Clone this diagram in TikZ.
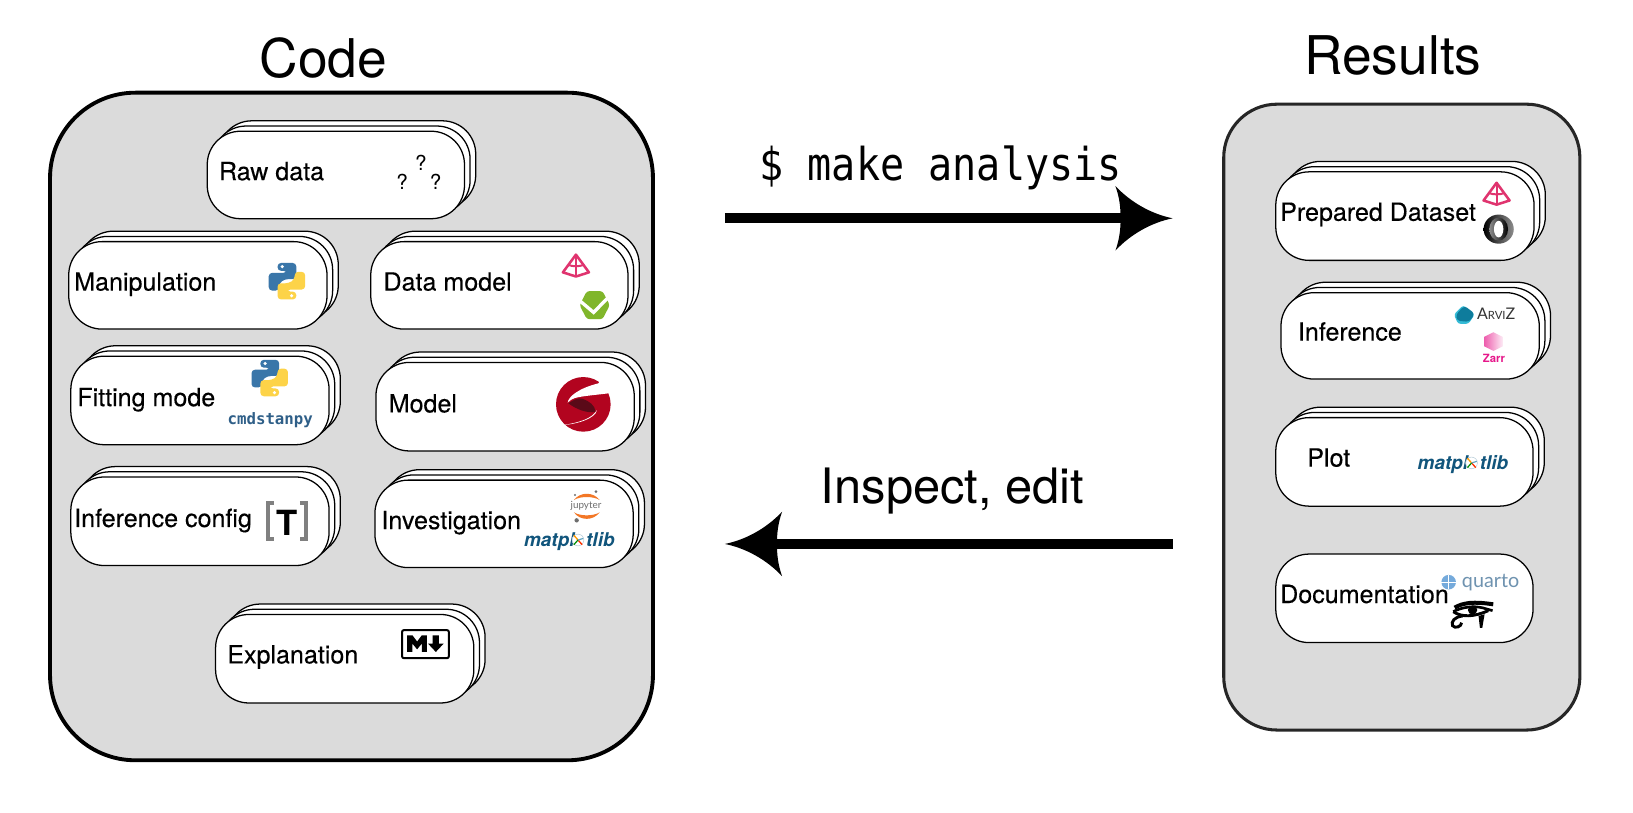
\documentclass[tikz,border=0pt]{standalone}
\usepackage{fontspec}
\setmainfont{TeX Gyre Heros}
\newfontfamily\cardfont[FakeBold=0.2]{TeX Gyre Heros}
\newfontfamily\monoA[FakeStretch=0.885]{DejaVu Sans Mono}
\newfontfamily\monoB{DejaVu Sans Mono}
\newfontfamily\latoF{Lato}
\definecolor{panelgray}{HTML}{DBDBDB}
\definecolor{pyblue}{HTML}{3A76A9}
\definecolor{pyyellow}{HTML}{FDD348}
\definecolor{pdpink}{HTML}{E0346F}
\definecolor{pdgreen}{HTML}{80B62B}
\definecolor{stanred}{HTML}{B2041F}
\definecolor{standark}{HTML}{5A0A18}
\definecolor{mplblue}{HTML}{11557C}
\definecolor{cmdblue}{HTML}{2F5F88}
\definecolor{juporange}{HTML}{F37726}
\definecolor{jupgray}{HTML}{6E6E6E}
\definecolor{arvizdark}{HTML}{0E7C9C}
\definecolor{arvizlight}{HTML}{35BBD6}
\definecolor{zarrpink}{HTML}{E6178A}
\definecolor{quartoblue}{HTML}{75AADB}
\definecolor{quartotext}{HTML}{6F93B0}
\newcommand{\Uu}{0.7811}
\newcommand{\Card}[5]{%
  \pgfmathsetmacro{\cardx}{(#2+#4)/2}%
  \pgfmathsetmacro{\cardy}{(#3+#5)/2}%
  \pgfmathsetmacro{\cardw}{(#4-#2)*\Uu}%
  \pgfmathsetmacro{\cardh}{(#5-#3)*\Uu}%
  \node[cardbox,minimum width=\cardw pt,minimum height=\cardh pt] (#1c) at (\cardx+10.8,\cardy-10) {};
  \node[cardbox,minimum width=\cardw pt,minimum height=\cardh pt] (#1b) at (\cardx+5.4,\cardy-5) {};
  \node[cardbox,minimum width=\cardw pt,minimum height=\cardh pt] (#1) at (\cardx,\cardy) {};
}
\newcommand{\SingleCard}[5]{%
  \pgfmathsetmacro{\cardx}{(#2+#4)/2}%
  \pgfmathsetmacro{\cardy}{(#3+#5)/2}%
  \pgfmathsetmacro{\cardw}{(#4-#2)*\Uu}%
  \pgfmathsetmacro{\cardh}{(#5-#3)*\Uu}%
  \node[cardbox,minimum width=\cardw pt,minimum height=\cardh pt] (#1) at (\cardx,\cardy) {};
}
\tikzset{
  x=0.7811pt,y=-0.7811pt,
  cardbox/.style={draw=black,fill=white,line width=0.95pt,rounded corners=25pt,inner sep=0pt,outer sep=0pt},
  cardlabel/.style={anchor=base west,inner sep=0pt,font=\cardfont\fontsize{18.8}{20}\selectfont},
  bigtitle/.style={anchor=base west,inner sep=0pt,font=\fontsize{40}{44}\selectfont},
  shaft/.style={line width=7.4pt,black,shorten >=30pt},
  pysnake/.pic={
    \fill[rounded corners=2.6pt,#1] (-9,-17.5) -- (9,-17.5) -- (9,-2) -- (-2,-2) -- (-7.5,2) -- (-7.5,9) -- (-17.5,9) -- (-17.5,-8) -- (0,-8) -- (0,-10) -- (-9,-10) -- cycle;
    \fill[white] (-4.5,-14) circle[radius=1.7];
  },
  pylogo/.pic={
    \pic {pysnake=pyblue};
    \pic[rotate=180] {pysnake=pyyellow};
  },
  pdtri/.pic={
    \draw[pdpink,line width=1.9pt,line join=round] (0,-10.5) -- (-12.5,6.5) -- (0,10.5) -- (12.5,6.5) -- cycle;
    \draw[pdpink,line width=1.5pt] (0,-10.5) -- (0,10.5);
    \draw[pdpink,line width=1.5pt] (-7,-0.5) .. controls (-3,1) and (3,1) .. (7,-0.5);
  },
  archead/.pic={
    \fill[black] (0,0) .. controls (-20,-4) and (-40,-15) .. (-55,-31) .. controls (-51,-20) and (-50,-10) .. (-50,0) .. controls (-50,10) and (-51,20) .. (-55,31) .. controls (-40,15) and (-20,4) .. cycle;
  },
  mpltext/.pic={
    \node[anchor=base west,inner sep=0pt,text=mplblue,font=\fontsize{14.2}{16}\bfseries\itshape\selectfont] (-txt) at (0,0) {matpl\textcolor{white}{o}tlib};
    \fill[white] (52,-6.5) circle[radius=5.8];
    \draw[mplblue!30,line width=0.4pt] (52,-6.5) circle[radius=5.6];
    \draw[orange!80!yellow,line width=1pt] (52,-6.5) -- (48,-11);
    \draw[red!60!orange,line width=1pt] (52,-6.5) -- (56,-2);
    \draw[green!55!black,line width=0.9pt] (52,-6.5) -- (48,-2);
    \draw[cyan!50!gray,line width=0.9pt] (52,-6.5) -- (57,-8);
  },
}
\begin{document}
\begin{tikzpicture}
\useasboundingbox (0,0) rectangle (1568,780.6);
\fill[white] (0,0) rectangle (1568,780.6);
% panels
\node[draw=black,fill=panelgray,line width=2.9pt,rounded corners=64pt,inner sep=0pt,minimum width=452.2pt,minimum height=500.7pt] (codepanel) at (337.5,409.5) {};
\node[draw=black!85,fill=panelgray,line width=2.3pt,rounded corners=40pt,inner sep=0pt,minimum width=267.1pt,minimum height=469.4pt] (resultspanel) at (1346,400.5) {};
\node[bigtitle] (codetitle) at (249,74) {Code};
\node[bigtitle] (resultstitle) at (1252,72) {Results};
% cards
\Card{raw}{199}{126}{446}{210}
\Card{manip}{66}{232}{314}{316}
\Card{dmodel}{356}{232}{603}{316}
\Card{fit}{68}{342}{316}{427}
\Card{model}{361}{348}{609}{433}
\Card{infconf}{68}{458}{316}{543}
\Card{invest}{360}{461}{608}{545}
\Card{expl}{207}{590}{455}{675}
\Card{prep}{1225}{165}{1473}{250}
\Card{inf}{1230}{281}{1478}{364}
\Card{plot}{1225}{401}{1472}{486}
\SingleCard{doc}{1225}{532}{1472}{617}
% labels
\node[cardlabel] (lraw) at (210,173) {Raw data};
\node[cardlabel] (lmanip) at (71,279) {Manipulation};
\node[cardlabel] (ldmodel) at (368,279) {Data model};
\node[cardlabel] (lfit) at (74,390) {Fitting mode};
\node[cardlabel] (lmodel) at (373,396) {Model};
\node[cardlabel] (linfconf) at (71,506) {Inference config};
\node[cardlabel] (linvest) at (366,508) {Investigation};
\node[cardlabel] (lexpl) at (218,637) {Explanation};
\node[cardlabel] (lprep) at (1229,212) {Prepared Dataset};
\node[cardlabel] (linf) at (1246,327) {Inference};
\node[cardlabel] (lplot) at (1255,448) {Plot};
\node[cardlabel] (ldoc) at (1229,579) {Documentation};
% question marks
\node[inner sep=0pt,font=\fontsize{15.5}{17}\selectfont] (q1) at (404,156.7) {?};
\node[inner sep=0pt,font=\fontsize{15.5}{17}\selectfont] (q2) at (386,175) {?};
\node[inner sep=0pt,font=\fontsize{15.5}{17}\selectfont] (q3) at (418.3,175) {?};
% python logos
\pic at (275.5,270) {pylogo};
\pic at (259,363) {pylogo};
% pydantic-like triangle
\pic at (553,255) {pdtri};
\pic at (1437,186) {pdtri};
% green hexagon
\begin{scope}[shift={(571,293)}]
\fill[pdgreen,rounded corners=2pt] (-14.5,0) -- (-7.5,-13.5) -- (7.5,-13.5) -- (14.5,0) -- (7.5,13.5) -- (-7.5,13.5) -- cycle;
\draw[white,line width=2.5pt] (-14,-4) -- (-1,7) -- (13.5,-8);
\end{scope}
% stan logo
\begin{scope}[shift={(523.3,355.3)},scale=0.32]
\fill[stanred] (115,103) circle[radius=82];
\fill[white] (68,98) .. controls (70,80) and (100,55) .. (160,40) -- (175,20) -- (205,60) -- (190,70) .. controls (150,75) and (110,78) .. (90,84) .. controls (78,88) and (72,94) .. cycle;
\fill[standark] (70,100) .. controls (85,90) and (100,82) .. (112,86) .. controls (132,93) and (150,105) .. (152,126) .. controls (125,130) and (95,118) .. cycle;
\fill[white] (48,166) .. controls (90,160) and (132,150) .. (150,128) -- (156,120) .. controls (152,145) and (100,162) .. cycle;
\end{scope}
% cmdstanpy
\node[anchor=center,inner sep=0pt,text=cmdblue,font=\monoB\fontsize{11.8}{13}\bfseries\selectfont] (cmdstan) at (259.5,403.5) {cmdstanpy};
% TOML logo
\draw[black!50,line width=2.8pt] (263,483) -- (257.5,483) -- (257.5,517.5) -- (263,517.5);
\draw[black!50,line width=2.8pt] (288,483) -- (293.5,483) -- (293.5,517.5) -- (288,517.5);
\node[inner sep=0pt,font=\fontsize{26}{28}\bfseries\selectfont] (tomlT) at (275.5,502) {T};
% jupyter
\begin{scope}[shift={(494.5,465.7)},scale=0.32]
\fill[juporange] (177,45) .. controls (195,20) and (235,20) .. (254,45) .. controls (235,33) and (195,33) .. cycle;
\fill[juporange] (177,82) .. controls (195,108) and (235,108) .. (254,82) .. controls (235,94) and (195,94) .. cycle;
\fill[jupgray] (243,20) circle[radius=4.5];
\fill[jupgray] (180,30) circle[radius=3.5];
\fill[jupgray] (185,106) circle[radius=6.5];
\node[inner sep=0pt,text=jupgray,font=\latoF\fontsize{7.4}{8}\selectfont] (juptext) at (213,63) {jupyter};
\end{scope}
% matplotlib
\pic (mplA) at (503,525) {mpltext};
\pic (mplB) at (1361,451) {mpltext};
% markdown
\draw[black,line width=1.5pt,rounded corners=1.5pt] (386,605) rectangle (431,632);
\fill[black] (391,626) -- (391,610) -- (396,610) -- (400.5,616) -- (405,610) -- (410,610) -- (410,626) -- (405,626) -- (405,618) -- (400.5,623.5) -- (396,618) -- (396,626) -- cycle;
\fill[black] (415.5,610) -- (421.5,610) -- (421.5,618) -- (426,618) -- (418.5,626) -- (411,618) -- (415.5,618) -- cycle;
% json ring
\shade[left color=black,right color=black!45,middle color=black!70] (1439,220) ellipse[x radius=14.5,y radius=14];
\shade[left color=black!45,right color=black] (1439,220) ellipse[x radius=9,y radius=11];
\fill[white] (1439,220) ellipse[x radius=4.5,y radius=8];
% arviz
\fill[arvizlight,rounded corners=2pt] (1396,302) -- (1405,293) -- (1416,302) -- (1410,311) -- (1400,311) -- cycle;
\fill[arvizdark,rounded corners=2.5pt] (1398,302) -- (1406,293.5) -- (1416,301) -- (1411,309) -- (1399,308) -- cycle;
\node[anchor=base west,inner sep=0pt,text=black!80,font=\latoF\fontsize{12}{13}\selectfont] (arviz) at (1418,306.5) {A{\fontsize{8.5}{9}\selectfont RVI}Z};
% zarr
\shade[left color=zarrpink!70,right color=zarrpink!8] (1434,319) -- (1443,323.5) -- (1443,332.5) -- (1434,337) -- (1425,332.5) -- (1425,323.5) -- cycle;
\node[inner sep=0pt,text=zarrpink,font=\fontsize{8.5}{9}\bfseries\selectfont] (zarr) at (1434.5,344) {Zarr};
% quarto
\fill[quartoblue] (1391,559) circle[radius=7];
\draw[white,line width=0.7pt] (1384,559) -- (1398,559) (1391,552) -- (1391,566);
\node[anchor=base west,inner sep=0pt,text=quartotext,font=\latoF\fontsize{14.8}{16}\selectfont] (quarto) at (1403.5,564) {quarto};
% eye
\begin{scope}[shift={(1373,537.7)},scale=0.32]
\draw[black,line width=3pt] (74,143) .. controls (100,128) and (130,124) .. (190,133);
\draw[black,line width=2pt] (70,155) .. controls (95,142) and (130,136) .. (160,144) .. controls (170,147) and (180,150) .. (188,152);
\draw[black,line width=2.2pt] (70,155) .. controls (95,172) and (130,172) .. (175,152);
\fill[black] (128,150) circle[radius=14];
\draw[black,line width=2.2pt] (98,168) .. controls (75,170) and (62,185) .. (68,197) .. controls (75,207) and (95,200) .. (95,188);
\fill[black] (146,168) -- (164,163) -- (157,204) -- (150,204) -- cycle;
\end{scope}
% connectors
\coordinate (runstart) at (696,209.6);
\coordinate (runend) at (1126,209.6);
\coordinate (backstart) at (1126,522.3);
\coordinate (backend) at (696,522.3);
\draw[shaft] (runstart) -- (runend);
\pic at (runend) {archead};
\draw[shaft] (backstart) -- (backend);
\pic[rotate=180] at (backend) {archead};
\node[anchor=base west,inner sep=0pt,font=\monoA\fontsize{34}{36}\selectfont] (makelabel) at (729,173) {\$ make analysis};
\node[anchor=base west,inner sep=0pt,font=\fontsize{36.6}{40}\selectfont] (inspectlabel) at (788,483) {Inspect, edit};
\end{tikzpicture}
\end{document}
